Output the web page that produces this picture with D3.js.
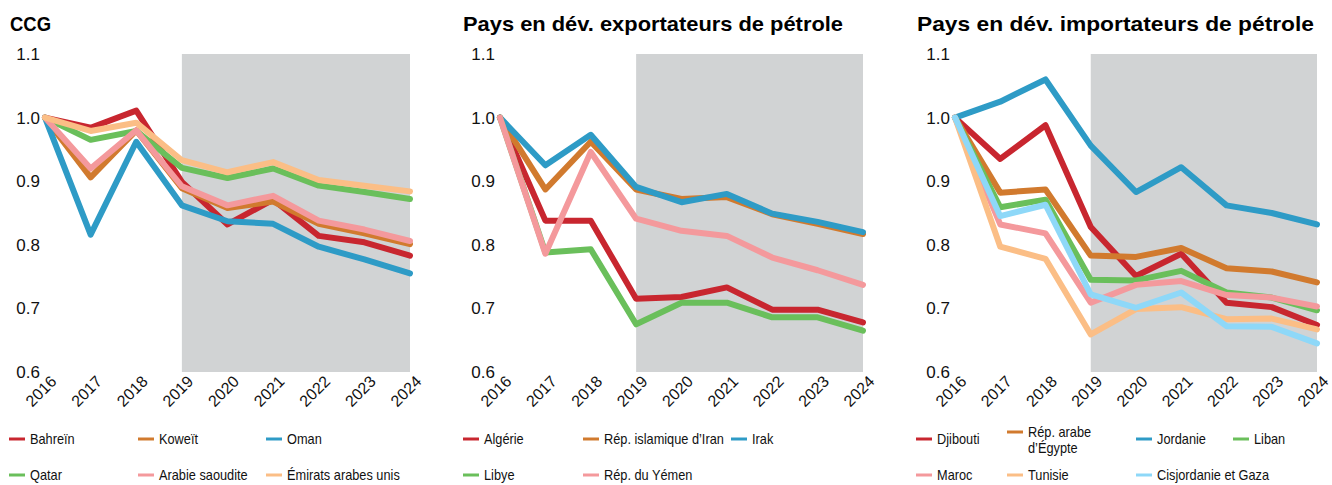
<!DOCTYPE html>
<html>
<head>
<meta charset="utf-8">
<script src="https://cdn.jsdelivr.net/npm/d3@7"></script>
<style>
  body { margin: 0; background: #fff; }
  svg { display: block; }
  .title { font-family: "Liberation Sans", Arial, sans-serif; font-weight: bold; font-size: 21px; fill: #000; }
  .tick text { font-family: "Liberation Sans", Arial, sans-serif; font-size: 17px; fill: #111; }
  .xlab { font-family: "Liberation Sans", Arial, sans-serif; font-size: 16px; fill: #111; }
  .legend text { font-family: "Liberation Sans", Arial, sans-serif; font-size: 14.5px; fill: #111; }
</style>
</head>
<body>
<svg id="chart"></svg>
<script>
const WIDTH = 1332;
const HEIGHT = 485;

const years = [2016, 2017, 2018, 2019, 2020, 2021, 2022, 2023, 2024];
const yTicks = [0.6, 0.7, 0.8, 0.9, 1.0, 1.1];
const projStart = 2019; // grey band = projections

const colors = ["#c8262f", "#d17a2e", "#2e9bc6", "#6abf5b", "#f4999c", "#fbbe86", "#8ed8f8"];

// CCG
const ccgNames = ["Bahreïn", "Koweït", "Oman", "Qatar", "Arabie saoudite", "Émirats arabes unis"];
const bahrein  = [1.0, 0.984, 1.011, 0.899, 0.832, 0.871, 0.814, 0.804, 0.783];
const koweit   = [1.0, 0.906, 0.980, 0.889, 0.858, 0.868, 0.833, 0.818, 0.801];
const oman     = [1.0, 0.816, 0.962, 0.862, 0.837, 0.833, 0.797, 0.777, 0.755];
const qatar    = [1.0, 0.965, 0.979, 0.921, 0.905, 0.920, 0.893, 0.883, 0.872];
const arabie   = [1.0, 0.920, 0.980, 0.892, 0.862, 0.877, 0.838, 0.824, 0.806];
const emirats  = [1.0, 0.979, 0.992, 0.933, 0.914, 0.930, 0.902, 0.893, 0.884];

// Exportateurs
const expNames = ["Algérie", "Rép. islamique d’Iran", "Irak", "Libye", "Rép. du Yémen"];
const algerie  = [1.0, 0.838, 0.838, 0.715, 0.718, 0.733, 0.698, 0.698, 0.678];
const iran     = [1.0, 0.887, 0.962, 0.887, 0.872, 0.875, 0.848, 0.833, 0.817];
const irak     = [1.0, 0.925, 0.973, 0.891, 0.867, 0.880, 0.849, 0.836, 0.820];
const libye    = [1.0, 0.788, 0.793, 0.675, 0.709, 0.709, 0.686, 0.686, 0.665];
const yemen    = [1.0, 0.786, 0.946, 0.841, 0.822, 0.814, 0.780, 0.760, 0.737];

// Importateurs
const impNames = ["Djibouti", "Rép. arabe|d’Égypte", "Jordanie", "Liban", "Maroc", "Tunisie", "Cisjordanie et Gaza"];
const djibouti = [1.0, 0.935, 0.988, 0.828, 0.751, 0.786, 0.709, 0.702, 0.674];
const egypte   = [1.0, 0.882, 0.887, 0.783, 0.781, 0.795, 0.763, 0.758, 0.741];
const jordanie = [1.0, 1.025, 1.060, 0.956, 0.883, 0.922, 0.862, 0.850, 0.832];
const liban    = [1.0, 0.859, 0.871, 0.745, 0.744, 0.759, 0.725, 0.717, 0.697];
const maroc    = [1.0, 0.832, 0.818, 0.709, 0.737, 0.743, 0.721, 0.717, 0.703];
const tunisie  = [1.0, 0.797, 0.778, 0.659, 0.699, 0.702, 0.683, 0.684, 0.667];
const cisjord  = [1.0, 0.845, 0.863, 0.722, 0.701, 0.725, 0.672, 0.671, 0.645];

// layout for each panel (title, plot x range, legend slots)
const panels = [
  { title: "CCG", left: 10, titleW: 41, x0: 45, x1: 410,
    names: ccgNames, series: [bahrein, koweit, oman, qatar, arabie, emirats],
    legendX: [9, 138, 266, 9, 138, 266], legendRow: [0, 0, 0, 1, 1, 1] },
  { title: "Pays en dév. exportateurs de pétrole", left: 463, titleW: 380, x0: 500, x1: 863,
    names: expNames, series: [algerie, iran, irak, libye, yemen],
    legendX: [463, 583, 731, 463, 583], legendRow: [0, 0, 0, 1, 1] },
  { title: "Pays en dév. importateurs de pétrole", left: 917, titleW: 397, x0: 955, x1: 1317,
    names: impNames, series: [djibouti, egypte, jordanie, liban, maroc, tunisie, cisjord],
    legendX: [916, 1007, 1136, 1233, 916, 1007, 1136], legendRow: [0, 0, 0, 0, 1, 1, 1] }
];

const TOP = 54, BOTTOM = 372;
const LEGEND_Y = [439, 475];
const NARROW = 0.88; // squeeze legend text like a condensed face

const svg = d3.select("#chart").attr("width", WIDTH).attr("height", HEIGHT);

const y = d3.scaleLinear().domain([0.6, 1.1]).range([BOTTOM, TOP]);

panels.forEach((p) => {
  const g = svg.append("g");
  const x = d3.scaleLinear().domain([2016, 2024]).range([p.x0, p.x1]);

  g.append("text").attr("class", "title")
    .attr("x", p.left).attr("y", 31)
    .attr("textLength", p.titleW)
    .attr("lengthAdjust", "spacingAndGlyphs")
    .text(p.title);

  // projection band
  g.append("rect")
    .attr("x", x(projStart)).attr("y", TOP)
    .attr("width", x(2024) - x(projStart))
    .attr("height", BOTTOM - TOP)
    .attr("fill", "#d1d3d4");

  // y axis, labels only
  const yAxis = g.append("g")
    .attr("transform", "translate(" + (p.x0 - 5) + ",0)")
    .call(d3.axisLeft(y).tickValues(yTicks).tickFormat(d3.format(".1f")).tickSize(0).tickPadding(0));
  yAxis.select(".domain").remove();

  // x labels rotated
  g.selectAll(".xlab").data(years).enter()
    .append("text").attr("class", "xlab")
    .attr("text-anchor", "end")
    .attr("transform", d => "translate(" + (x(d) + 4) + "," + (BOTTOM + 2) + ") rotate(-45)")
    .attr("dy", "0.75em")
    .text(d => d);

  const line = d3.line()
    .x((d, i) => x(years[i]))
    .y(d => y(d));

  g.selectAll(".series").data(p.series).enter()
    .append("path")
    .attr("d", line)
    .attr("fill", "none")
    .attr("stroke", (d, i) => colors[i])
    .attr("stroke-width", 6)
    .attr("stroke-linejoin", "round")
    .attr("stroke-linecap", "round");

  // legend
  const lg = g.append("g").attr("class", "legend");
  p.names.forEach((name, i) => {
    const lx = p.legendX[i];
    const parts = name.split("|");
    const ly = LEGEND_Y[p.legendRow[i]] - (parts.length > 1 ? 7 : 0);
    lg.append("line")
      .attr("x1", lx).attr("x2", lx + 16)
      .attr("y1", ly).attr("y2", ly)
      .attr("stroke", colors[i]).attr("stroke-width", 3);
    parts.forEach((s, k) => {
      const t = lg.append("text")
        .attr("x", lx + 21).attr("y", ly + k * 16).attr("dy", "0.35em")
        .text(s);
      const w = t.node().getComputedTextLength();
      t.attr("textLength", w * NARROW).attr("lengthAdjust", "spacingAndGlyphs");
    });
  });
});
</script>
</body>
</html>
